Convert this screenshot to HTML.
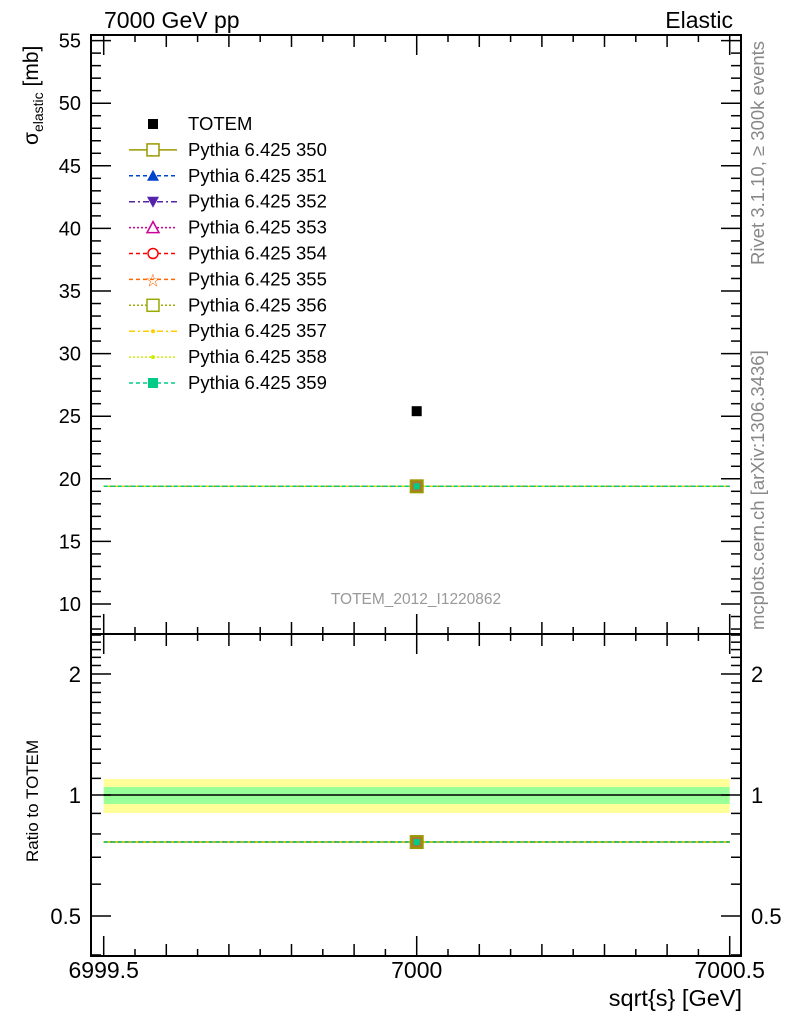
<!DOCTYPE html>
<html><head><meta charset="utf-8"><style>
body{margin:0;background:#fff;}
svg{display:block;font-family:"Liberation Sans",sans-serif;}
</style></head><body>
<svg id="c" width="786" height="1024" viewBox="0 0 786 1024">
<text x="104" y="28" font-size="23">7000 GeV pp</text>
<text x="733" y="28" font-size="23" text-anchor="end">Elastic</text>
<text transform="translate(764,265) rotate(-90)" font-size="18.5" fill="#888">Rivet 3.1.10, ≥ 300k events</text>
<text transform="translate(764,630) rotate(-90)" font-size="18.5" fill="#888">mcplots.cern.ch [arXiv:1306.3436]</text>
<text x="416" y="604" font-size="15.5" fill="#999" text-anchor="middle">TOTEM_2012_I1220862</text>
<text transform="translate(38,145) rotate(-90)" font-size="21">σ<tspan font-size="14" dy="5">elastic</tspan><tspan dy="-5"> [mb]</tspan></text>
<text transform="translate(38,862) rotate(-90)" font-size="17">Ratio to TOTEM</text>
<text x="742" y="1006" font-size="23.5" text-anchor="end">sqrt{s} [GeV]</text>
<g id="g"></g>
</svg>
<script>
const xTicks=[6999.5,7000,7000.5];
const yTicks=[10,15,20,25,30,35,40,45,50,55];
const rTicks=[0.5,1,2];
const dataX=[7000];
const dataY=[25.4];
const mcY=[19.4];
const band1=[0.95,1.047];
const band2=[0.902,1.096];
const L=91,R=741,T=35,M=634,B=956;
const X=v=>103.7+(v-6999.5)*626;
const Y=v=>604-(v-10)*12.52;
const RY=v=>795-Math.log2(v)*121;
const g=document.getElementById('g');
const NS='http://www.w3.org/2000/svg';
function el(t,a){const e=document.createElementNS(NS,t);for(const k in a)e.setAttribute(k,a[k]);g.appendChild(e);return e;}
function ln(x1,y1,x2,y2,s,w,d){return el('line',{x1,y1,x2,y2,stroke:s||'#000','stroke-width':w||1,'stroke-dasharray':d||'none'});}
let b=el('rect',{x:X(6999.5),y:RY(band2[1]),width:X(7000.5)-X(6999.5),height:RY(band2[0])-RY(band2[1]),fill:'#ffff99'});

b=el('rect',{x:X(6999.5),y:RY(band1[1]),width:X(7000.5)-X(6999.5),height:RY(band1[0])-RY(band1[1]),fill:'#99ff99'});

let l=ln(X(6999.5),RY(1),X(7000.5),RY(1),'#000',1.5);

let f=el('rect',{x:L,y:T,width:R-L,height:M-T,fill:'none',stroke:'#000','stroke-width':2});

f=el('rect',{x:L,y:M,width:R-L,height:B-M,fill:'none',stroke:'#000','stroke-width':2});

for(let i=0;i<=20;i++){const v=6999.5+i*0.05;const x=X(v);const len=(i%10==0)?20:(i%2==0?12:7);
 for(const [y0,dir] of [[T,1],[M,-1],[M,1],[B,-1]]) ln(x,y0,x,y0+dir*len,'#000',1.5);}
xTicks.forEach(v=>{const t=el('text',{x:X(v),y:978,'font-size':23,'text-anchor':'middle'});t.textContent=String(v);
});
for(let v=8;v<=55;v++){const y=Y(v);const len=v%5==0?20:10;ln(L,y,L+len,y,'#000',1.5);ln(R,y,R-len,y,'#000',1.5);}
yTicks.forEach(v=>{const t=el('text',{x:81,y:Y(v)+7,'font-size':20,'text-anchor':'end'});t.textContent=v;
});
for(let k=4;k<=25;k++){const v=k/10;const y=RY(v);const maj=rTicks.includes(v);const len=maj?20:10;
 ln(L,y,L+len,y,'#000',1.5);ln(R,y,R-len,y,'#000',1.5);}
rTicks.forEach(v=>{for(const [x,a] of [[81,'end'],[751,'start']]){const t=el('text',{x,y:RY(v)+8,'font-size':22,'text-anchor':a});t.textContent=v;
}});
const cols=['#999900','#0044cc','#5522aa','#cc0099','#ff0000','#ff6600','#99aa00','#ffcc00','#ccee00','#00cc88'];
const dashes=['none','4,3','6,3,2,3','2,2','4,3','4,3','2,2','6,3,2,3','2,2','4,3'];
cols.forEach((c,i)=>{const p=ln(X(6999.5),Y(mcY[0]),X(7000.5),Y(mcY[0]),c,1.5,dashes[i]);

const q=ln(X(6999.5),RY(mcY[0]/dataY[0]),X(7000.5),RY(mcY[0]/dataY[0]),c,1.5,dashes[i]);
});
for(const [yy,nm] of [[Y(mcY[0]),'mc-marker'],[RY(mcY[0]/dataY[0]),'mc-ratio-marker']]){
 let m=el('rect',{x:X(dataX[0])-6,y:yy-6,width:12,height:12,fill:'#aa7733',stroke:'#999900','stroke-width':2});
 
 m=el('rect',{x:X(dataX[0])-3,y:yy-3,width:6,height:6,fill:'#00cc88'});
 }
let d=el('rect',{x:X(dataX[0])-5,y:Y(dataY[0])-5,width:10,height:10,fill:'#000'});

const names=['TOTEM','Pythia 6.425 350','Pythia 6.425 351','Pythia 6.425 352','Pythia 6.425 353','Pythia 6.425 354','Pythia 6.425 355','Pythia 6.425 356','Pythia 6.425 357','Pythia 6.425 358','Pythia 6.425 359'];
const mk=['sq','osq','tri','itri','otri','circ','star','osq','dot','dot','sq'];
names.forEach((n,i)=>{const y=124+i*25.9;const cx=153;
 if(i>0){const p=ln(129,y,177,y,cols[i-1],1.5,dashes[i-1]);}
 const c=i==0?'#000':cols[i-1];const k=mk[i];let m;
 if(k=='sq')m=el('rect',{x:cx-5,y:y-5,width:10,height:10,fill:c});
 else if(k=='osq')m=el('rect',{x:cx-6,y:y-6,width:12,height:12,fill:'#fff',stroke:c,'stroke-width':1.5});
 else if(k=='tri')m=el('polygon',{points:`${cx},${y-6} ${cx-6},${y+5} ${cx+6},${y+5}`,fill:c});
 else if(k=='itri')m=el('polygon',{points:`${cx},${y+6} ${cx-6},${y-5} ${cx+6},${y-5}`,fill:c});
 else if(k=='otri')m=el('polygon',{points:`${cx},${y-6} ${cx-6},${y+5} ${cx+6},${y+5}`,fill:'#fff',stroke:c,'stroke-width':1.5});
 else if(k=='circ')m=el('circle',{cx,cy:y,r:5,fill:'#fff',stroke:c,'stroke-width':1.5});
 else if(k=='star'){const t=el('text',{x:cx,y:y+7,'font-size':18,'text-anchor':'middle',fill:c});t.textContent='☆';m=t;}
 else m=el('circle',{cx,cy:y,r:2,fill:c});
 
 const t=el('text',{x:188,y:y+6,'font-size':18.5});t.textContent=n;
 });
</script>
</body></html>
